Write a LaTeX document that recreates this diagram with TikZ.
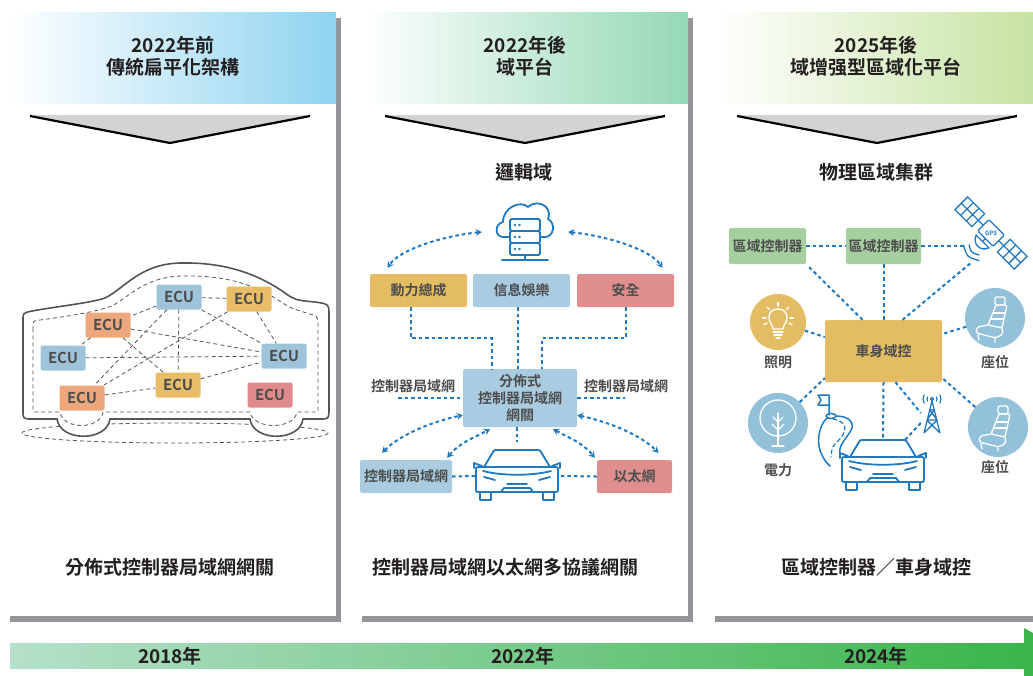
\documentclass[tikz,border=0pt]{standalone}
\usepackage{fontspec}
\setmainfont{Noto Sans CJK TC}[BoldFont={Noto Sans CJK TC Bold}]
\usetikzlibrary{arrows.meta}

\definecolor{hdrblue}{HTML}{8ED3F0}
\definecolor{hdrgreen}{HTML}{94D8B6}
\definecolor{hdrlime}{HTML}{C7E3A2}
\definecolor{framegray}{HTML}{939598}
\definecolor{chevgray}{HTML}{D1D3D4}
\definecolor{ecublue}{HTML}{9DC4DA}
\definecolor{ecuyellow}{HTML}{E9BD68}
\definecolor{ecuorange}{HTML}{ECA87C}
\definecolor{ecured}{HTML}{E08A8C}
\definecolor{boxyellow}{HTML}{E4BC64}
\definecolor{boxblue}{HTML}{A9CCE0}
\definecolor{boxred}{HTML}{E18E8F}
\definecolor{boxgreen}{HTML}{A6CFA0}
\definecolor{circblue}{HTML}{94C1DA}
\definecolor{iconblue}{HTML}{1F78C0}
\definecolor{txtdark}{HTML}{231F20}
\definecolor{txtgray}{HTML}{4D4D4D}
\definecolor{carline}{HTML}{555555}
\definecolor{barstart}{HTML}{B5E0CB}
\definecolor{barend}{HTML}{3AB54A}

\tikzset{
  head/.style={font=\bfseries\fontsize{19}{22}\selectfont, text=txtdark, align=center},
  title/.style={font=\bfseries\fontsize{19}{22}\selectfont, text=txtdark},
  ecu/.style={rounded corners=2pt, minimum width=45pt, minimum height=25pt, inner sep=0pt,
    text=txtgray, font=\bfseries\fontsize{15}{15}\selectfont},
  ecuedge/.style={carline, line width=0.8pt, dash pattern=on 4pt off 3pt},
  dom/.style={rounded corners=2pt, minimum height=33pt, inner sep=0pt, text=txtgray,
    font=\bfseries\fontsize{14}{17}\selectfont, align=center},
  lbl/.style={text=txtgray, font=\bfseries\fontsize{14}{17}\selectfont},
  link/.style={iconblue, line width=2pt, dash pattern=on 3.5pt off 3pt},
  twoway/.style={link, {Stealth[length=6pt,width=7pt]}-{Stealth[length=6pt,width=7pt]}},
  icon/.style={iconblue, line width=1.8pt, line join=round, line cap=round},
  whiteicon/.style={white, line width=1.3pt, line join=round, line cap=round},
  ring/.style={circle, minimum size=60pt, inner sep=0pt},
  ghost/.style={inner sep=0pt},
  % front view of a car, origin in the middle
  carfront/.pic={
    \draw[icon] (-33,-9) -- (-24,-24) .. controls (-23,-26) .. (-20,-26) -- (20,-26)
      .. controls (23,-26) .. (24,-24) -- (33,-9);
    \draw[icon] (-38,-9) .. controls (-41,-9) .. (-41,-6) -- (-41,13) .. controls (-41,16) .. (-38,16)
      -- (38,16) .. controls (41,16) .. (41,13) -- (41,-6) .. controls (41,-9) .. (38,-9) -- cycle;
    \draw[icon] (-35,-10) -- (-43,-13) -- (-43,-8);
    \draw[icon] (35,-10) -- (43,-13) -- (43,-8);
    \draw[icon] (-34,-5) .. controls (-15,0) and (15,0) .. (34,-5);
    \draw[icon] (-33,1) -- (-22,4) (33,1) -- (22,4);
    \draw[icon] (-10,8) -- (10,8) (-16,16) -- (-13,12) -- (13,12) -- (16,16);
    \draw[icon] (-37,16) -- (-37,24) -- (-26,24) -- (-26,16);
    \draw[icon] (37,16) -- (37,24) -- (26,24) -- (26,16);
  },
  % car seat in white line art
  seat/.pic={
    \draw[whiteicon, rounded corners=2pt] (0,-21) rectangle (10,-13);
    \draw[whiteicon, rounded corners=1.5pt] (1,-13) -- (-7,7) -- (7,10) -- (12,-13) -- cycle;
    \draw[whiteicon] (-2,-5) -- (10,-5) (-4,1) -- (8.5,1);
    \draw[whiteicon, rounded corners=2pt] (-7,7) -- (-18,9) -- (-19,15) -- (1,20) -- (8,16) -- (7,10);
    \draw[whiteicon] (-17,17) -- (-16,22) (0,20) -- (0,24);
  },
}

\begin{document}
\begin{tikzpicture}[x=1pt, y=-1pt]
  \useasboundingbox (0,0) rectangle (1033,675);
  \clip (0,0) rectangle (1033,675);

  % Panel frames
  \foreach \xa/\xb in {10/336, 362/688, 715/1045} {
    \fill[framegray] (\xb,18) rectangle (\xb+5,622);
    \fill[framegray] (\xa,616) rectangle (\xb+5,622);
  }

  % Header bands
  \shade[left color=white, right color=hdrblue] (10,12) rectangle (336,103);
  \shade[left color=white, right color=hdrgreen] (362,12) rectangle (688,103);
  \shade[left color=white, right color=hdrlime] (715,12) rectangle (1033,103);
  \node[head] (h1) at (173,56) {2022年前\\傳統扁平化架構};
  \node[head] (h2) at (525,56) {2022年後\\域平台};
  \node[head] (h3) at (876,56) {2025年後\\域增强型區域化平台};

  % Down chevrons
  \foreach \cx in {170,525,877} {
    \fill[chevgray] (\cx-140,115) -- (\cx+140,115) -- (\cx,143) -- cycle;
    \draw[black, line width=2.2pt] (\cx-140,116) -- (\cx,143) -- (\cx+140,116);
  }

  % ---------------- Flat architecture: car with ECUs ----------------
  \draw[ecuedge] (175,433) ellipse [x radius=153, y radius=10];
  \draw[carline, line width=1.6pt, fill=white]
    (23,330) -- (23,320) .. controls (23,313) .. (32,311)
    .. controls (60,306) and (90,303) .. (105,298)
    .. controls (125,288) and (140,264) .. (180,263)
    .. controls (225,262) and (258,274) .. (285,293)
    .. controls (295,300) .. (315,302)
    .. controls (329,304) .. (329,316) -- (329,408)
    .. controls (329,419) .. (320,419) -- (303,419)
    .. controls (300,442) and (253,442) .. (250,419) -- (110,419)
    .. controls (107,442) and (60,442) .. (57,419) -- (32,419)
    .. controls (23,419) .. (23,410) -- cycle;
  \draw[ecuedge]
    (33,330) -- (33,326) .. controls (33,321) .. (40,320)
    .. controls (70,316) and (95,312) .. (112,306)
    .. controls (130,296) and (145,277) .. (182,276)
    .. controls (222,275) and (250,283) .. (275,298)
    .. controls (290,308) .. (310,314)
    .. controls (317,316) .. (318,322) -- (318,408)
    .. controls (318,412) .. (314,412) -- (297,412)
    .. controls (294,430) and (253,430) .. (250,412) -- (103,412)
    .. controls (100,430) and (63,430) .. (60,412) -- (37,412)
    .. controls (33,412) .. (33,408) -- cycle;

  \node[ecu, fill=ecublue] (e1) at (179,297) {ECU};
  \node[ecu, fill=ecuyellow] (e2) at (249,299) {ECU};
  \node[ecu, fill=ecuorange] (e3) at (108,325) {ECU};
  \node[ecu, fill=ecublue] (e4) at (63,358) {ECU};
  \node[ecu, fill=ecublue] (e5) at (284,356) {ECU};
  \node[ecu, fill=ecuyellow] (e6) at (178,385) {ECU};
  \node[ecu, fill=ecuorange] (e7) at (82,398) {ECU};
  \node[ecu, fill=ecured] (e8) at (270,395) {ECU};

  \foreach \a/\b in {e1/e2, e1/e3, e1/e6, e1/e7, e1/e5, e2/e5, e2/e7,
                     e3/e4, e3/e5, e3/e6, e4/e5, e7/e6, e6/e5}
    \draw[ecuedge] (\a) -- (\b);

  \node[title] (b1) at (170,567) {分佈式控制器局域網網關};

  % ---------------- Domain platform ----------------
  \node[title] (t2) at (524,172) {邏輯域};

  % cloud server
  \node[ghost, minimum width=86pt, minimum height=60pt] (cloud) at (525,232) {};
  \draw[icon] (510,237) -- (503,237) .. controls (495,237) and (494,224) .. (503,222)
    .. controls (503,207) and (521,200) .. (528,207)
    .. controls (536,199) and (553,205) .. (548,219)
    .. controls (556,223) and (554,237) .. (545,237) -- (540,237);
  \foreach \y in {219,231,243} {
    \draw[icon, fill=white, rounded corners=1.5pt] (510,\y) rectangle (540,\y+12);
    \fill[iconblue] (515,\y+6) circle (1.3);
    \fill[iconblue] (519.5,\y+6) circle (1.3);
  }
  \draw[icon] (525,255) -- (525,260) (502,260) -- (548,260);

  \node[dom, fill=boxyellow, minimum width=97pt] (pwr) at (418.5,290.5) {動力總成};
  \node[dom, fill=boxblue, minimum width=97pt] (info) at (521.5,290.5) {信息娛樂};
  \node[dom, fill=boxred, minimum width=97pt] (safe) at (625.5,290.5) {安全};
  \node[dom, fill=boxblue, minimum width=114pt, minimum height=58pt] (gw) at (520,398)
    {分佈式\\控制器局域網\\網關};
  \node[dom, fill=boxblue, minimum width=92pt] (can2) at (406,476.5) {控制器局域網};
  \node[dom, fill=boxred, minimum width=75pt] (eth) at (634.5,476.5) {以太網};
  \node[ghost, minimum width=83pt, minimum height=52pt] (car2) at (517,476) {};
  \pic at (car2) {carfront};

  \node[lbl] (canl) at (413,386) {控制器局域網};
  \node[lbl] (canr) at (626,386) {控制器局域網};
  \coordinate (canlend) at (398,398);
  \coordinate (canrend) at (625,398);

  \draw[twoway] (cloud.west) .. controls +(-40,4) and +(12,-18) .. ([shift={(-31pt,6pt)}]pwr.north);
  \draw[twoway] (cloud.east) .. controls +(40,4) and +(-12,-18) .. ([shift={(37pt,6pt)}]safe.north);

  \draw[link] ([xshift=-8pt]pwr.south) -- ++(0,31) -| ([xshift=-28pt]gw.north);
  \draw[link] ([xshift=-4pt]info.south) -- ([xshift=-4pt]info.south |- gw.north);
  \draw[link] (safe.south) -- ++(0,31) -| ([xshift=22pt]gw.north);
  \draw[link] (canlend) -- (gw.west);
  \draw[link] (gw.east) -- (canrend);
  \draw[link, shorten >=8pt] (car2.north |- gw.south) -- (car2.north);
  \draw[link] (can2.east) -- (car2.west);
  \draw[link] (eth.west) -- (car2.east);

  \draw[twoway] ([shift={(-24pt,7pt)}]can2.north) .. controls +(20,-20) and +(-25,5) .. ([yshift=12pt]gw.south west);
  \draw[twoway] ([shift={(-5pt,2pt)}]can2.north east) .. controls +(12,-15) and +(-15,8) .. ([shift={(-30pt,-2pt)}]gw.south);
  \draw[twoway] ([shift={(33pt,-2pt)}]gw.south) .. controls +(15,8) and +(-12,-15) .. ([shift={(-2pt,2pt)}]eth.north west);
  \draw[twoway] ([yshift=12pt]gw.south east) .. controls +(25,5) and +(-20,-20) .. ([shift={(24pt,7pt)}]eth.north);

  \node[title] (b2) at (505,567) {控制器局域網以太網多協議網關};

  % ---------------- Zonal platform ----------------
  \node[title] (t3) at (876,172) {物理區域集群};

  \node[dom, fill=boxgreen, minimum width=77pt, minimum height=36pt] (zc1) at (767.5,246) {區域控制器};
  \node[dom, fill=boxgreen, minimum width=75pt, minimum height=36pt] (zc2) at (883.5,246) {區域控制器};
  \node[dom, fill=boxyellow, minimum width=117pt, minimum height=62pt] (bc) at (883.5,351) {車身域控};

  \node[ring, fill=boxyellow, minimum size=56pt] (bulb) at (778,322) {};
  \node[ring, fill=circblue] (seat1) at (995,318) {};
  \node[ring, fill=circblue] (tree) at (778,423) {};
  \node[ring, fill=circblue] (seat2) at (998,427) {};
  \node[lbl] (lbulb) at (778,362) {照明};
  \node[lbl] (lseat1) at (995,362) {座位};
  \node[lbl] (ltree) at (778,470) {電力};
  \node[lbl] (lseat2) at (995,467) {座位};

  % bulb
  \draw[whiteicon] (773,329) .. controls (773,325) and (769,323) .. (769,317)
    .. controls (769,312) and (773,309) .. (778,309) .. controls (783,309) and (787,312) .. (787,317)
    .. controls (787,323) and (783,325) .. (783,329) -- cycle;
  \draw[whiteicon] (773,332) -- (783,332) (774,335) -- (782,335) (776,338) -- (780,338);
  \foreach \a in {-90,-135,-45,180,0,25,155}
    \draw[whiteicon] (778,318) ++(\a:12) -- ++(\a:3.5);

  % tree
  \draw[whiteicon] (778,418) circle (18);
  \draw[whiteicon] (778,413) -- (778,446) (772,446) -- (784,446);
  \draw[whiteicon] (773,417) -- (778,422) -- (783,417) (772,424) -- (778,430) -- (784,424);

  \pic at (seat1) {seat};
  \pic at (seat2) {seat};

  % satellite
  \node[ghost, minimum size=60pt] (sat) at (991,233) {};
  \begin{scope}[shift={(991,233)}, rotate=-45]
    \draw[iconblue, line width=1.3pt, rounded corners=2pt, fill=white] (-11,-8) rectangle (11,8);
    \foreach \s in {-1,1} {
      \draw[iconblue, line width=1.3pt] (\s*18,-9) rectangle (\s*42,9);
      \draw[iconblue, line width=1.3pt] (\s*26,-9) -- (\s*26,9) (\s*34,-9) -- (\s*34,9)
        (\s*18,0) -- (\s*42,0) (\s*11,0) -- (\s*18,0);
    }
    \draw[iconblue, line width=1.3pt] (0,8) -- (0,12);
    \draw[iconblue, line width=1.3pt] (-9,12) .. controls (-6,21) and (6,21) .. (9,12) -- cycle;
    \draw[iconblue, line width=1.3pt, line cap=round] (-7,24) .. controls (0,28) .. (7,24)
      (-11,28) .. controls (0,34) .. (11,28);
  \end{scope}
  \node[font=\bfseries\fontsize{6}{6}\selectfont, text=iconblue] (gps) at (991,233) {GPS};
  \coordinate (satl) at (966,246);
  \coordinate (satb) at (972,262);

  % road with flag
  \draw[icon, line width=1.5pt] (829,415) -- (829,395) -- (818,395) -- (821,400) -- (818,405) -- (829,405);
  \draw[icon, line width=1.5pt] (831,416) ellipse [x radius=5, y radius=2.5];
  \draw[icon, line width=1.5pt] (827,418) .. controls (818,426) and (816,445) .. (822,455)
    .. controls (825,461) .. (830,466);
  \draw[icon, line width=1.5pt] (836,416) .. controls (850,416) and (856,424) .. (850,432)
    .. controls (845,440) and (838,446) .. (840,455);
  \draw[icon, line width=1.2pt, dash pattern=on 4pt off 3pt] (833,419) .. controls (850,422) and (846,433) .. (838,441)
    .. controls (832,447) .. (831,457);

  % radio tower
  \node[ghost, minimum width=22pt, minimum height=40pt] (tower) at (932,413) {};
  \draw[iconblue, line width=1.3pt, line join=round]
    (932,401) -- (924,433) (932,401) -- (940,433)
    (929.6,410) -- (934.4,410) (926.8,420) -- (937.2,420)
    (929.6,410) -- (937.2,420) (934.4,410) -- (926.8,420)
    (926.8,420) -- (940,433) (937.2,420) -- (924,433);
  \draw[iconblue, line width=1.3pt] (932,399) circle (1.5);
  \foreach \r in {5,9} {
    \draw[iconblue, line width=1.2pt] (932,399) ++(150:\r) arc[start angle=150, end angle=210, radius=\r];
    \draw[iconblue, line width=1.2pt] (932,399) ++(-30:\r) arc[start angle=-30, end angle=30, radius=\r];
  }

  \node[ghost, minimum width=83pt, minimum height=52pt] (car3) at (883,466) {};
  \pic at (car3) {carfront};

  \draw[link] (zc1.east) -- (zc2.west);
  \draw[link] (zc2.east) -- (satl);
  \draw[link, shorten >=3pt] ([xshift=-21pt]bc.north) -- (zc1.south east);
  \draw[link] (bc.north) -- (zc2.south);
  \draw[link] ([xshift=19pt]bc.north) -- (satb);
  \draw[link] (bulb) -- ([yshift=14pt]bc.west);
  \draw[link] (seat1) -- ([yshift=17pt]bc.east);
  \draw[link] (tree) -- ([yshift=-27pt]bc.west);
  \draw[link] (seat2) -- ([yshift=-27pt]bc.east);
  \draw[link] (bc.south) -- (car3.north);
  \draw[link] ([xshift=12pt]bc.south) -- (tower.west);
  \draw[link] ([yshift=-10pt]tower.west) -- ([xshift=22pt]car3.north);

  \node[title] (b3) at (876,567) {區域控制器／車身域控};

  % Timeline
  \shade[left color=barstart, right color=barend] (10,643) rectangle (1025,668);
  \fill[barend] (1024,628) -- (1074,655.5) -- (1024,683) -- cycle;
  \node[title] (y1) at (170,656) {2018年};
  \node[title] (y2) at (523,656) {2022年};
  \node[title] (y3) at (876,656) {2024年};
\end{tikzpicture}
\end{document}
